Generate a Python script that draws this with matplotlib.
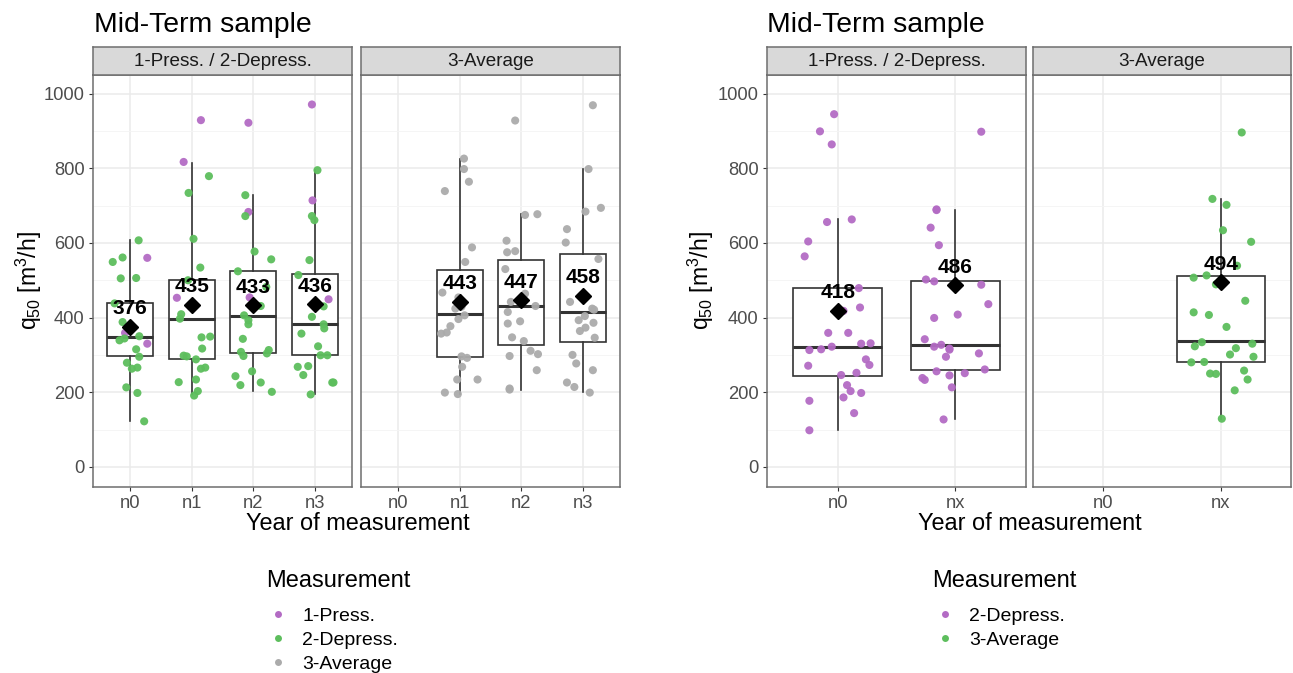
import matplotlib
matplotlib.use("Agg")
import matplotlib.pyplot as plt
from matplotlib.lines import Line2D

plt.rcParams['font.family'] = ['Liberation Sans', 'DejaVu Sans']
plt.rcParams['mathtext.fontset'] = 'custom'
plt.rcParams['mathtext.rm'] = 'Liberation Sans'
plt.rcParams['mathtext.it'] = 'Liberation Sans:italic'

# --- data ---
left_cats = ['n0', 'n1', 'n2', 'n3']
right_cats = ['n0', 'nx']

# box stats per category: whisker low, q1, median, q3, whisker high, mean
p1_lo = [122, 196, 204, 194]
p1_q1 = [296, 288, 304, 299]
p1_med = [349, 397, 404, 384]
p1_q3 = [440, 502, 524, 516]
p1_hi = [607, 814, 728, 795]
p1_mean = [376, 435, 433, 436]

p2_lo = [None, 196, 205, 201]
p2_q1 = [None, 295, 326, 335]
p2_med = [None, 409, 431, 415]
p2_q3 = [None, 527, 554, 570]
p2_hi = [None, 826, 677, 799]
p2_mean = [None, 443, 447, 458]

p3_lo = [98, 127]
p3_q1 = [244, 259]
p3_med = [321, 327]
p3_q3 = [480, 497]
p3_hi = [663, 689]
p3_mean = [418, 486]

p4_lo = [None, 129]
p4_q1 = [None, 281]
p4_med = [None, 336]
p4_q3 = [None, 511]
p4_hi = [None, 717]
p4_mean = [None, 494]

# points: values and horizontal jitter per category
p1_press_val = [[560, 359, 330], [929, 817, 453], [922, 683, 454], [971, 714, 449]]
p1_press_dx = [[0.28, -0.08, 0.28], [0.15, -0.13, -0.24], [-0.08, -0.08, -0.06], [-0.05, -0.04, 0.22]]
p1_depr_val = [
    [607, 549, 561, 505, 506, 438, 388, 339, 344, 350, 315, 295, 279, 263, 266, 213, 198, 122],
    [779, 734, 611, 534, 500, 429, 409, 397, 347, 349, 317, 298, 296, 288, 266, 263, 227, 234, 203, 191],
    [728, 672, 577, 556, 524, 482, 431, 406, 393, 382, 343, 308, 297, 313, 304, 256, 243, 219, 226, 201],
    [795, 672, 661, 554, 514, 430, 402, 382, 371, 357, 323, 299, 299, 268, 270, 246, 226, 226, 194],
]
p1_depr_dx = [
    [0.14, -0.28, -0.12, -0.15, 0.10, -0.25, -0.12, -0.17, -0.09, 0.15, 0.10, 0.15, -0.05, 0.03, 0.12, -0.06, 0.12, 0.23],
    [0.28, -0.05, 0.03, 0.14, -0.06, -0.01, -0.17, -0.19, 0.16, 0.30, 0.17, -0.13, -0.08, 0.07, 0.22, 0.15, -0.21, 0.07, 0.10, 0.04],
    [-0.13, -0.13, 0.02, 0.29, -0.25, 0.21, 0.12, -0.15, -0.08, -0.08, -0.17, -0.20, -0.16, 0.25, 0.22, -0.02, -0.29, -0.21, 0.12, 0.30],
    [0.04, -0.05, -0.01, -0.09, -0.27, 0.14, -0.05, 0.14, 0.15, -0.22, 0.05, 0.09, 0.20, -0.28, -0.11, -0.19, 0.30, 0.28, -0.07],
]

p2_avg_val = [
    [],
    [826, 798, 764, 739, 588, 549, 467, 454, 424, 429, 406, 377, 360, 357, 396, 296, 292, 268, 234, 234, 199, 195],
    [928, 675, 677, 606, 575, 578, 530, 442, 464, 431, 415, 390, 384, 347, 337, 311, 302, 297, 259, 210, 207],
    [969, 798, 684, 694, 637, 601, 557, 442, 424, 421, 404, 393, 386, 373, 364, 346, 300, 277, 259, 226, 214, 199],
]
p2_avg_dx = [
    [],
    [0.07, 0.07, 0.15, -0.24, 0.20, 0.09, -0.28, -0.02, -0.07, 0.03, 0.08, -0.15, -0.21, -0.30, -0.02, 0.03, 0.12, 0.04, -0.04, 0.29, -0.24, -0.03],
    [-0.10, 0.06, 0.26, -0.24, -0.23, -0.10, -0.26, -0.17, 0.06, 0.23, -0.22, -0.02, -0.22, -0.15, 0.04, 0.15, 0.27, -0.19, 0.25, -0.19, -0.19],
    [0.16, 0.09, 0.04, 0.29, -0.26, -0.28, 0.25, -0.21, 0.15, 0.18, 0.03, -0.07, 0.17, 0.04, -0.05, 0.19, -0.17, -0.11, 0.16, -0.26, -0.14, 0.11],
]

p3_depr_val = [
    [945, 899, 864, 656, 663, 604, 564, 479, 418, 427, 359, 359, 330, 331, 313, 315, 322, 288, 273, 271,
     246, 252, 219, 203, 198, 186, 177, 144, 98],
    [898, 690, 688, 641, 594, 502, 497, 488, 436, 399, 408, 342, 322, 327, 317, 314, 304, 295, 261, 256,
     251, 245, 238, 233, 213, 127],
]
p3_depr_dx = [
    [-0.03, -0.15, -0.05, -0.09, 0.12, -0.25, -0.28, 0.18, 0.05, 0.19, -0.08, 0.09, 0.20, 0.28, -0.24, -0.14, -0.05, 0.24, 0.27, -0.25,
     0.03, 0.16, 0.08, 0.11, 0.20, 0.05, -0.24, 0.14, -0.24],
    [0.22, -0.16, -0.16, -0.21, -0.14, -0.25, -0.18, 0.22, 0.28, -0.18, 0.02, -0.26, -0.18, -0.12, -0.05, -0.05, 0.20, -0.08, 0.25, -0.16,
     0.08, -0.05, -0.28, -0.26, -0.03, -0.10],
]

p4_avg_val = [
    [],
    [896, 718, 702, 634, 603, 539, 507, 513, 489, 445, 414, 407, 375, 334, 323, 330, 318, 301, 295, 280,
     281, 258, 250, 249, 234, 205, 129],
]
p4_avg_dx = [
    [],
    [0.18, -0.07, 0.05, 0.02, 0.26, 0.14, -0.23, -0.12, -0.04, 0.21, -0.23, -0.10, 0.05, -0.16, -0.22, 0.27, 0.13, 0.08, 0.28, -0.25,
     -0.14, 0.20, -0.09, -0.04, 0.23, 0.12, 0.01],
]

PURPLE = '#B36BC4'
GREEN = '#5DBE5D'
GREY = '#ABABAB'

W, H = 1293, 673
fig = plt.figure(figsize=(W / 100, H / 100), dpi=100)


def fx(px):
    return px / W


def fy(py):
    return 1 - py / H


def make_panel(x0, x1, strip_text):
    ax = fig.add_axes([fx(x0), fy(487), fx(x1 - x0), (487 - 75) / H])
    sax = fig.add_axes([fx(x0), fy(75), fx(x1 - x0), 28 / H])
    sax.set_xticks([])
    sax.set_yticks([])
    sax.set_facecolor('#D9D9D9')
    for s in sax.spines.values():
        s.set_color('#6E6E6E')
        s.set_linewidth(1.1)
    sax.text(0.5, 0.47, strip_text, ha='center', va='center', fontsize=13.6, color='#1A1A1A',
             transform=sax.transAxes)
    return ax


def style_panel(ax, cats, show_y):
    ax.set_xlim(-0.6, len(cats) - 1 + 0.6)
    ax.set_ylim(-54, 1050)
    ax.set_xticks(range(len(cats)))
    ax.set_xticklabels(cats)
    ax.set_yticks([0, 200, 400, 600, 800, 1000])
    ax.set_yticklabels(['0', '200', '400', '600', '800', '1000'])
    ax.set_yticks([100, 300, 500, 700, 900], minor=True)
    ax.grid(True, which='major', color='#EBEBEB', lw=1.1, zorder=0)
    ax.grid(True, which='minor', axis='y', color='#F4F4F4', lw=0.6, zorder=0)
    ax.set_axisbelow(True)
    ax.tick_params(axis='both', which='major', length=3, width=0.8, color='#333333',
                   labelcolor='#4D4D4D', labelsize=13.2, pad=3)
    ax.tick_params(which='minor', length=0)
    if not show_y:
        ax.tick_params(axis='y', which='both', length=0, labelleft=False)
    for s in ax.spines.values():
        s.set_color('#6E6E6E')
        s.set_linewidth(1.1)


def draw_boxes(ax, lo, q1, med, q3, hi):
    stats, pos = [], []
    for i in range(len(lo)):
        if lo[i] is None:
            continue
        stats.append(dict(whislo=lo[i], q1=q1[i], med=med[i], q3=q3[i], whishi=hi[i], fliers=[]))
        pos.append(i)
    ax.bxp(stats, positions=pos, widths=0.75, patch_artist=True, showfliers=False, showcaps=False,
           manage_ticks=False,
           boxprops=dict(facecolor='white', edgecolor='#333333', lw=1.2),
           whiskerprops=dict(color='#333333', lw=1.2),
           medianprops=dict(color='#333333', lw=2.2),
           zorder=2)


def draw_means(ax, mean):
    for i, m in enumerate(mean):
        if m is None:
            continue
        ax.plot(i, m, marker='D', color='black', markersize=8.5, zorder=5)
        ax.annotate(str(m), (i, m), xytext=(0, 18), textcoords='offset pixels', ha='center', va='center',
                    fontsize=15, fontweight='bold', color='black', zorder=6)


def draw_points(ax, vals, dxs, color):
    for i in range(len(vals)):
        xs = [i + d for d in dxs[i]]
        ax.scatter(xs, vals[i], s=34, color=color, alpha=0.95, edgecolors='none', zorder=3)


# left chart
ax1 = make_panel(93, 352, '1-Press. / 2-Depress.')
draw_boxes(ax1, p1_lo, p1_q1, p1_med, p1_q3, p1_hi)
draw_points(ax1, p1_press_val, p1_press_dx, PURPLE)
draw_points(ax1, p1_depr_val, p1_depr_dx, GREEN)
draw_means(ax1, p1_mean)
style_panel(ax1, left_cats, True)

ax2 = make_panel(361, 620, '3-Average')
draw_boxes(ax2, p2_lo, p2_q1, p2_med, p2_q3, p2_hi)
draw_points(ax2, p2_avg_val, p2_avg_dx, GREY)
draw_means(ax2, p2_mean)
style_panel(ax2, left_cats, False)

# right chart
ax3 = make_panel(767, 1026, '1-Press. / 2-Depress.')
draw_boxes(ax3, p3_lo, p3_q1, p3_med, p3_q3, p3_hi)
draw_points(ax3, p3_depr_val, p3_depr_dx, PURPLE)
draw_means(ax3, p3_mean)
style_panel(ax3, right_cats, True)

ax4 = make_panel(1033, 1291, '3-Average')
draw_boxes(ax4, p4_lo, p4_q1, p4_med, p4_q3, p4_hi)
draw_points(ax4, p4_avg_val, p4_avg_dx, GREEN)
draw_means(ax4, p4_mean)
style_panel(ax4, right_cats, False)

# titles and axis labels
ylab = 'q$_{50}$ [m$^3$/h]'
fig.text(fx(94), fy(25), 'Mid-Term sample', fontsize=20.4, ha='left', va='center', color='black')
fig.text(fx(767), fy(25), 'Mid-Term sample', fontsize=20.4, ha='left', va='center', color='black')
fig.text(fx(29), fy(281), ylab, rotation=90, fontsize=16.5, ha='center', va='center')
fig.text(fx(701), fy(281), ylab, rotation=90, fontsize=16.5, ha='center', va='center')
fig.text(fx(358), fy(524), 'Year of measurement', fontsize=16.9, ha='center', va='center')
fig.text(fx(1030), fy(524), 'Year of measurement', fontsize=16.9, ha='center', va='center')


def dot(c):
    return Line2D([], [], ls='none', marker='o', markersize=5, color=c, markeredgecolor='none')


# legends (title drawn as text, ggplot-style left aligned)
fig.text(fx(266), fy(581), 'Measurement', fontsize=17, ha='left', va='center')
fig.legend([dot(PURPLE), dot(GREEN), dot(GREY)], ['1-Press.', '2-Depress.', '3-Average'],
           loc='upper left', bbox_to_anchor=(fx(268), fy(607)),
           frameon=False, fontsize=14, labelspacing=0.33, handletextpad=0.75,
           handlelength=1.0, borderpad=0, borderaxespad=0)
fig.text(fx(932), fy(581), 'Measurement', fontsize=17, ha='left', va='center')
fig.legend([dot(PURPLE), dot(GREEN)], ['2-Depress.', '3-Average'],
           loc='upper left', bbox_to_anchor=(fx(935), fy(607)),
           frameon=False, fontsize=14, labelspacing=0.33, handletextpad=0.75,
           handlelength=1.0, borderpad=0, borderaxespad=0)

fig.savefig('out.png', dpi=100)
